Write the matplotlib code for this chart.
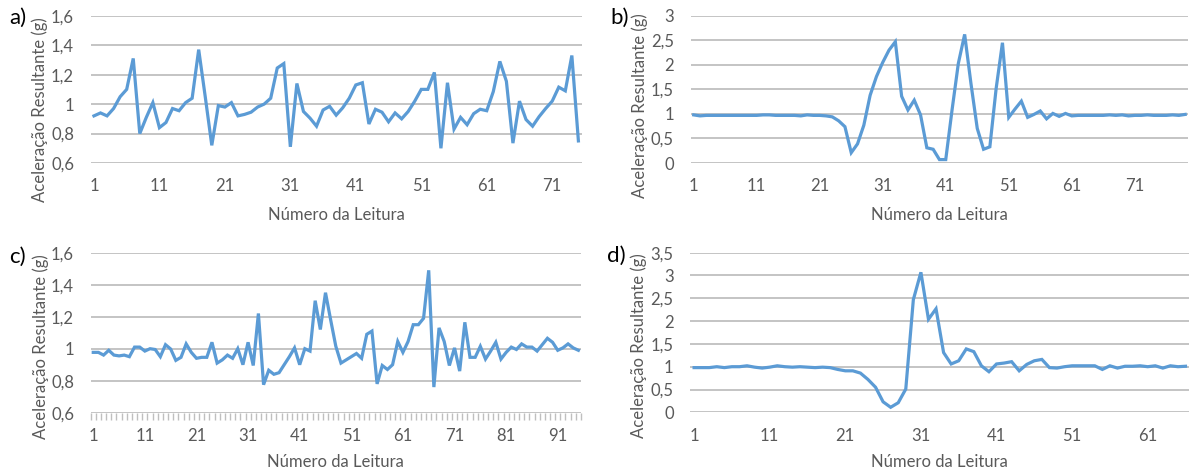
import numpy as np
import matplotlib.pyplot as plt
from matplotlib.ticker import FixedLocator

# ---- dados ----
acel_a = [0.92, 0.94, 0.92, 0.97, 1.05, 1.10, 1.31, 0.80, 0.91, 1.01,
          0.84, 0.875, 0.97, 0.955, 1.01, 1.04, 1.37, 1.05, 0.72, 0.99,
          0.98, 1.01, 0.92, 0.93, 0.945, 0.98, 1.00, 1.04, 1.245, 1.275,
          0.71, 1.14, 0.95, 0.905, 0.85, 0.96, 0.985, 0.925, 0.975, 1.04,
          1.13, 1.145, 0.865, 0.965, 0.945, 0.88, 0.94, 0.90, 0.95, 1.02,
          1.10, 1.10, 1.215, 0.70, 1.145, 0.83, 0.91, 0.86, 0.935, 0.965,
          0.955, 1.085, 1.29, 1.155, 0.735, 1.02, 0.895, 0.85, 0.915, 0.97,
          1.02, 1.115, 1.09, 1.33, 0.75]

acel_b = [0.98, 0.96, 0.97, 0.97, 0.97, 0.97, 0.97, 0.97, 0.97, 0.97,
          0.97, 0.98, 0.98, 0.97, 0.97, 0.97, 0.97, 0.96, 0.98, 0.97,
          0.97, 0.96, 0.94, 0.86, 0.74, 0.21, 0.39, 0.77, 1.38, 1.76,
          2.05, 2.30, 2.47, 1.36, 1.08, 1.28, 0.98, 0.31, 0.28, 0.07,
          0.07, 1.08, 2.03, 2.62, 1.62, 0.705, 0.28, 0.33, 1.52, 2.45,
          0.93, 1.10, 1.26, 0.93, 0.99, 1.06, 0.90, 1.01, 0.95, 1.01,
          0.96, 0.97, 0.97, 0.97, 0.97, 0.97, 0.98, 0.97, 0.98, 0.96,
          0.97, 0.97, 0.98, 0.97, 0.97, 0.97, 0.98, 0.97, 0.99]

acel_c = [0.977, 0.977, 0.96, 0.99, 0.96, 0.955, 0.96, 0.95, 1.01, 1.01,
          0.985, 1.0, 0.995, 0.95, 1.025, 0.998, 0.927, 0.946, 1.03, 0.977,
          0.94, 0.946, 0.946, 1.04, 0.91, 0.93, 0.96, 0.94, 1.0, 0.90,
          1.04, 0.895, 1.22, 0.775, 0.865, 0.84, 0.85, 0.90, 0.95, 1.005,
          0.90, 1.0, 0.985, 1.30, 1.12, 1.35, 1.18, 1.015, 0.91, 0.93,
          0.95, 0.97, 0.94, 1.09, 1.11, 0.78, 0.895, 0.87, 0.90, 1.045,
          0.977, 1.045, 1.15, 1.15, 1.19, 1.49, 0.76, 1.13, 1.045, 0.895,
          1.005, 0.86, 1.165, 0.946, 0.946, 1.015, 0.935, 0.985, 1.04, 0.935,
          0.977, 1.01, 0.995, 1.03, 1.01, 1.01, 0.985, 1.025, 1.065, 1.04,
          0.99, 1.005, 1.03, 1.005, 0.99]

acel_d = [0.98, 0.98, 0.98, 1.0, 0.98, 1.0, 1.0, 1.02, 0.99, 0.97,
          0.99, 1.02, 1.0, 0.99, 1.0, 0.99, 0.98, 0.99, 0.98, 0.94,
          0.91, 0.91, 0.86, 0.72, 0.55, 0.23, 0.11, 0.21, 0.51, 2.47,
          3.07, 2.04, 2.27, 1.31, 1.06, 1.13, 1.39, 1.33, 1.02, 0.89,
          1.06, 1.08, 1.11, 0.91, 1.05, 1.13, 1.16, 0.98, 0.97, 1.0,
          1.02, 1.02, 1.02, 1.02, 0.94, 1.02, 0.97, 1.01, 1.01, 1.02,
          1.0, 1.02, 0.97, 1.02, 1.0, 1.01]

yticks_a = [0.6, 0.8, 1.0, 1.2, 1.4, 1.6]
ylabels_a = ["0,6", "0,8", "1", "1,2", "1,4", "1,6"]
yticks_b = [0, 0.5, 1, 1.5, 2, 2.5, 3]
ylabels_b = ["0", "0,5", "1", "1,5", "2", "2,5", "3"]
yticks_d = [0, 0.5, 1, 1.5, 2, 2.5, 3, 3.5]
ylabels_d = ["0", "0,5", "1", "1,5", "2", "2,5", "3", "3,5"]

plt.rcParams['font.family'] = ['Lato', 'DejaVu Sans']

cor_linha = '#5B9BD5'
cor_texto = '#595959'
cor_grade = '#BFBFBF'

fig = plt.figure(figsize=(11.9, 4.71), dpi=100)

paineis = [
    ("a)", acel_a, yticks_a, ylabels_a, [0.0762, 0.6539, 0.4126, 0.3127], 0.36, -0.30, False),
    ("b)", acel_b, yticks_b, ylabels_b, [0.5803, 0.6539, 0.4183, 0.3127], 0.39, -0.30, False),
    ("c)", acel_c, yticks_a, ylabels_a, [0.0762, 0.1238, 0.4120, 0.3397], 0.41, -0.26, True),
    ("d)", acel_d, yticks_d, ylabels_d, [0.5801, 0.1246, 0.4193, 0.3389], 0.42, -0.26, False),
]

for letra, dados, yt, yl, pos, ylab_y, xlab_y, marcas in paineis:
    ax = fig.add_axes(pos)
    n = len(dados)
    x = np.arange(1, n + 1)
    ax.plot(x, dados, color=cor_linha, lw=2.3, solid_joinstyle='miter')
    ax.set_xlim(0.5, n + 0.5)
    ax.set_ylim(yt[0], yt[-1])
    ax.set_yticks(yt)
    ax.set_yticklabels(yl)
    ax.set_xticks(np.arange(1, n + 1, 10))
    ax.grid(axis='y', color=cor_grade, lw=1.3)
    ax.set_axisbelow(True)
    for s in ax.spines.values():
        s.set_visible(False)
    ax.tick_params(axis='both', length=0, labelsize=12, colors=cor_texto)
    ax.tick_params(axis='x', pad=11)
    ax.tick_params(axis='y', pad=12)
    if marcas:
        ax.xaxis.set_minor_locator(FixedLocator(np.arange(0.5, n + 1, 1)))
        ax.tick_params(axis='x', which='minor', length=5, width=1, color=cor_grade)
    ax.set_ylabel("Aceleração Resultante (g)", fontsize=12, color=cor_texto)
    ax.yaxis.set_label_coords(-0.086, ylab_y)
    ax.set_xlabel("Número da Leitura", fontsize=12, color=cor_texto)
    ax.xaxis.set_label_coords(0.5, xlab_y)

fig.text(0.008, 0.962, "a)", fontsize=16, va='center')
fig.text(0.513, 0.962, "b)", fontsize=16, va='center')
fig.text(0.008, 0.455, "c)", fontsize=16, va='center')
fig.text(0.510, 0.457, "d)", fontsize=16, va='center')

fig.savefig("out.png", dpi=100)
